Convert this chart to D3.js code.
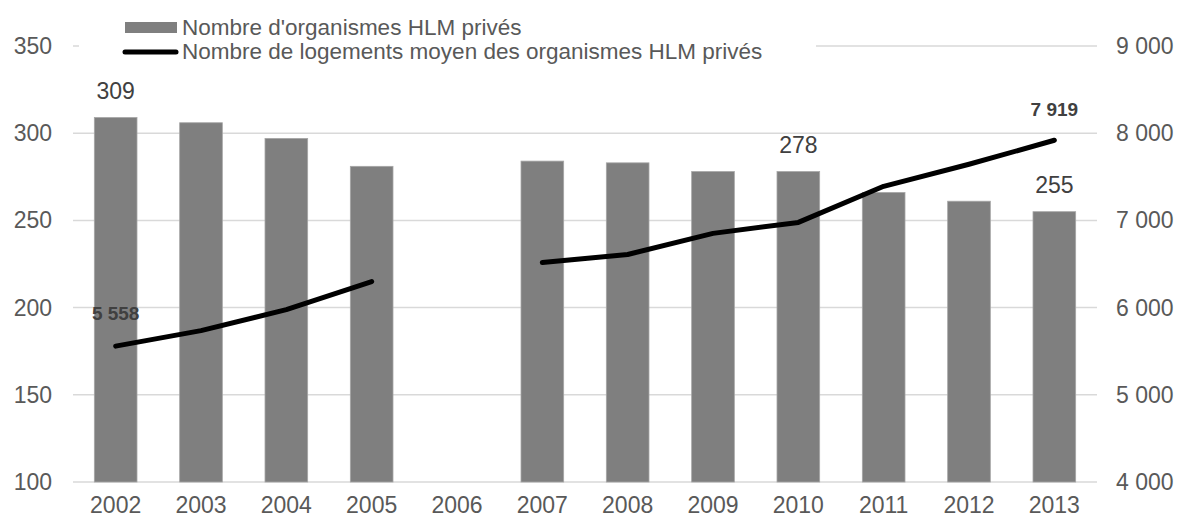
<!DOCTYPE html>
<html>
<head>
<meta charset="utf-8">
<script src="https://d3js.org/d3.v7.min.js"></script>
<style>
  body { margin: 0; background: #fff; }
  text { font-family: "Liberation Sans", Arial, sans-serif; }
</style>
</head>
<body>
<script>
    var width = 1179;
    var height = 520;

    var years = ["2002", "2003", "2004", "2005", "2006", "2007", "2008", "2009", "2010", "2011", "2012", "2013"];
    var organismes = [309, 306, 297, 281, null, 284, 283, 278, 278, 266, 261, 255];
    var logements = [5558, 5736, 5977, 6299, null, 6517, 6609, 6851, 6977, 7391, 7644, 7919];
    var leftTicks = [100, 150, 200, 250, 300, 350];
    var rightTicks = [4000, 5000, 6000, 7000, 8000, 9000];
    var barLabels = {"2002": "309", "2010": "278", "2013": "255"};
    var lineLabels = {"2002": "5 558", "2013": "7 919"};

    var x = d3.scaleBand().domain(years).range([73, 1097]).paddingInner(0.5).paddingOuter(0.25);
    var yL = d3.scaleLinear().domain([100, 350]).range([482, 46]);
    var yR = d3.scaleLinear().domain([4000, 9000]).range([482, 46]);
    var fmt = function (v) { return d3.format(",")(v).replace(/,/g, " "); };
    var cx = function (y) { return x(y) + x.bandwidth() / 2; };

    var svg = d3.select("body").append("svg")
        .attr("width", width)
        .attr("height", height);

    // grid
    svg.selectAll("line.grid")
        .data(leftTicks)
        .enter().append("line")
        .attr("class", "grid")
        .attr("x1", 73).attr("x2", 1097)
        .attr("y1", function (d) { return yL(d); })
        .attr("y2", function (d) { return yL(d); })
        .style("stroke", "#d9d9d9")
        .style("stroke-width", 1.5);

    // axis labels
    svg.selectAll("text.yl")
        .data(leftTicks)
        .enter().append("text")
        .attr("x", 52)
        .attr("y", function (d) { return yL(d) + 8; })
        .attr("text-anchor", "end")
        .style("font-size", "23px")
        .style("fill", "#595959")
        .text(function (d) { return d; });

    svg.selectAll("text.yr")
        .data(rightTicks)
        .enter().append("text")
        .attr("x", 1116)
        .attr("y", function (d) { return yR(d) + 8; })
        .style("font-size", "23px")
        .style("fill", "#595959")
        .text(function (d) { return fmt(d); });

    svg.selectAll("text.xl")
        .data(years)
        .enter().append("text")
        .attr("x", cx)
        .attr("y", 513)
        .attr("text-anchor", "middle")
        .style("font-size", "23px")
        .style("fill", "#595959")
        .text(function (d) { return d; });

    // bars
    var barData = years.map(function (y, i) { return {year: y, v: organismes[i]}; })
        .filter(function (d) { return d.v !== null; });

    svg.selectAll("rect.bar")
        .data(barData)
        .enter().append("rect")
        .attr("class", "bar")
        .attr("x", function (d) { return x(d.year); })
        .attr("width", x.bandwidth())
        .attr("y", function (d) { return yL(d.v); })
        .attr("height", function (d) { return yL(100) - yL(d.v); })
        .style("fill", "#7f7f7f")
        .style("stroke", "#a6a6a6")
        .style("stroke-width", 0.8);

    svg.selectAll("text.barlab")
        .data(barData.filter(function (d) { return barLabels[d.year]; }))
        .enter().append("text")
        .attr("x", function (d) { return cx(d.year); })
        .attr("y", function (d) { return yL(d.v) - 19; })
        .attr("text-anchor", "middle")
        .style("font-size", "23px")
        .style("fill", "#404040")
        .text(function (d) { return barLabels[d.year]; });

    // line
    var lineData = years.map(function (y, i) { return {year: y, v: logements[i]}; });
    var line = d3.line()
        .defined(function (d) { return d.v !== null; })
        .x(function (d) { return cx(d.year); })
        .y(function (d) { return yR(d.v); });

    svg.append("path")
        .datum(lineData)
        .attr("d", line)
        .style("fill", "none")
        .style("stroke", "#000")
        .style("stroke-width", 5)
        .style("stroke-linecap", "round")
        .style("stroke-linejoin", "round");

    svg.append("text")
        .attr("x", cx("2002"))
        .attr("y", yR(logements[0]) - 26)
        .attr("text-anchor", "middle")
        .style("font-size", "19px")
        .style("font-weight", "bold")
        .style("fill", "#404040")
        .text(lineLabels["2002"]);

    svg.append("text")
        .attr("x", cx("2013"))
        .attr("y", yR(logements[11]) - 24)
        .attr("text-anchor", "middle")
        .style("font-size", "19px")
        .style("font-weight", "bold")
        .style("fill", "#404040")
        .text(lineLabels["2013"]);

    // legend
    var legend = svg.append("g");
    legend.append("rect")
        .attr("x", 79).attr("y", 8).attr("width", 737).attr("height", 62)
        .style("fill", "#fff");
    legend.append("rect")
        .attr("x", 125).attr("y", 22).attr("width", 52).attr("height", 11)
        .style("fill", "#7f7f7f");
    legend.append("text")
        .attr("x", 182).attr("y", 35)
        .style("font-size", "22.5px")
        .style("fill", "#595959")
        .text("Nombre d'organismes HLM privés");
    legend.append("line")
        .attr("x1", 125).attr("x2", 176).attr("y1", 52).attr("y2", 52)
        .style("stroke", "#000")
        .style("stroke-width", 5)
        .style("stroke-linecap", "round");
    legend.append("text")
        .attr("x", 182).attr("y", 59)
        .style("font-size", "22.5px")
        .style("fill", "#595959")
        .text("Nombre de logements moyen des organismes HLM privés");
</script>
</body>
</html>
